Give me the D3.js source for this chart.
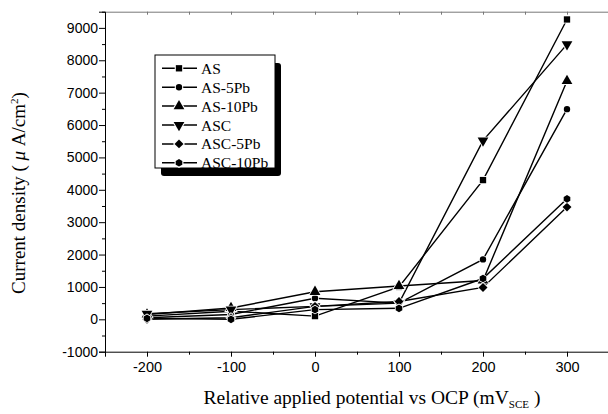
<!DOCTYPE html>
<html><head><meta charset="utf-8">
<script src="https://cdn.jsdelivr.net/npm/d3@7"></script>
<style>body{margin:0;background:#fff}svg{display:block}</style>
</head><body>
<svg id="c" width="608" height="414"></svg>
<script>
const potentials = [-200, -100, 0, 100, 200, 300];
const seriesNames = ["AS", "AS-5Pb", "AS-10Pb", "ASC", "ASC-5Pb", "ASC-10Pb"];
const AS      = [100, 250, 100, 1000, 4300, 9260];
const AS5Pb   = [50, 150, 650, 500, 1850, 6490];
const AS10Pb  = [150, 350, 850, 1030, 1200, 7360];
const ASC     = [170, 300, 400, 500, 5520, 8490];
const ASC5Pb  = [0, 50, 400, 550, 985, 3465];
const ASC10Pb = [30, 0, 300, 340, 1260, 3720];
const xTicks = [-200, -100, 0, 100, 200, 300];
const yTicks = [-1000, 0, 1000, 2000, 3000, 4000, 5000, 6000, 7000, 8000, 9000];

const seriesValues = [AS, AS5Pb, AS10Pb, ASC, ASC5Pb, ASC10Pb];

const svg = d3.select("#c");
const x = d3.scaleLinear().domain([-250, 350]).range([105, 609]);
const y = d3.scaleLinear().domain([-1000, 9500]).range([351.7, 11.7]);
const fmt = d => String(d); // plain hyphen-minus like the original

const triDown = {draw(ctx, size){const s=Math.sqrt(size/(Math.sqrt(3)/4)); const hh=s*Math.sqrt(3)/2;
  ctx.moveTo(-s/2, -hh/3); ctx.lineTo(s/2, -hh/3); ctx.lineTo(0, 2*hh/3); ctx.closePath();}};
const triUp = {draw(ctx, size){const s=Math.sqrt(size/(Math.sqrt(3)/4)); const hh=s*Math.sqrt(3)/2;
  ctx.moveTo(-s/2, hh/3); ctx.lineTo(s/2, hh/3); ctx.lineTo(0, -2*hh/3); ctx.closePath();}};
const hexa = {draw(ctx, size){const r=Math.sqrt(size/2.598); for(let i=0;i<6;i++){const a=Math.PI/6+i*Math.PI/3; const px=r*Math.cos(a), py=r*Math.sin(a); if(i===0)ctx.moveTo(px,py); else ctx.lineTo(px,py);} ctx.closePath();}};
const diam = {draw(ctx, size){const r=Math.sqrt(size/2); ctx.moveTo(0,-r); ctx.lineTo(r,0); ctx.lineTo(0,r); ctx.lineTo(-r,0); ctx.closePath();}};
const symTypes = [d3.symbolSquare, d3.symbolCircle, triUp, triDown, diam, hexa];
const symSizes = [40, 32, 50, 50, 40, 38];

// top grey line with ticks
const topAx = d3.axisTop(x).tickValues(d3.range(-250, 351, 50)).tickSize(-3).tickFormat("");
const gTop = svg.append("g").attr("transform", `translate(0,${y(9500)})`).call(topAx);
gTop.selectAll("path,line").attr("stroke", "#777").attr("stroke-width", 1);

const gx = svg.append("g").attr("transform", `translate(0,${y(-1000)})`)
  .call(d3.axisBottom(x).tickValues(xTicks).tickSize(5).tickPadding(5).tickFormat(fmt));
gx.selectAll("text").attr("font-family", "Liberation Sans, Arial, sans-serif").attr("font-size", 14.5).attr("fill", "#000");
const gxm = svg.append("g").attr("transform", `translate(0,${y(-1000)})`)
  .call(d3.axisBottom(x).tickValues(d3.range(-250, 351, 100)).tickSize(3).tickFormat(""));
gxm.select("path").remove();

const gy = svg.append("g").attr("transform", `translate(${x(-250)},0)`)
  .call(d3.axisLeft(y).tickValues(yTicks).tickSize(6).tickPadding(1).tickFormat(fmt));
gy.selectAll("text").attr("font-family", "Liberation Sans, Arial, sans-serif").attr("font-size", 14).attr("fill", "#000");
const gym = svg.append("g").attr("transform", `translate(${x(-250)},0)`)
  .call(d3.axisLeft(y).tickValues(d3.range(-500, 9501, 1000)).tickSize(3).tickFormat(""));
gym.select("path").remove();
svg.selectAll(".domain").attr("stroke-width", 1);

// lines
const line = d3.line().x((d, i) => x(potentials[i])).y(d => y(d));
const gData = svg.append("g");
seriesValues.forEach((vals) => {
  gData.append("path").datum(vals).attr("d", line).attr("fill", "none")
    .attr("stroke", "#000").attr("stroke-width", 1.4);
});
seriesValues.forEach((vals, si) => {
  gData.selectAll(null).data(vals).enter().append("path")
    .attr("transform", (d, i) => `translate(${x(potentials[i])},${y(d)})`)
    .attr("d", d3.symbol().type(symTypes[si]).size(symSizes[si]))
    .attr("fill", "#000").attr("stroke", "#fff").attr("stroke-width", 1.6).attr("paint-order", "stroke");
});

// legend
const lg = svg.append("g");
const lx = 155, ly = 55, lw = 120, lh = 113;
lg.append("rect").attr("x", lx + 6).attr("y", ly + 8).attr("width", lw).attr("height", lh)
  .attr("fill", "#000").attr("rx", 3);
lg.append("rect").attr("x", lx).attr("y", ly).attr("width", lw).attr("height", lh)
  .attr("fill", "#fff").attr("stroke", "#000").attr("stroke-width", 1);
seriesNames.forEach((name, i) => {
  const yy = 68.3 + i * 18.9;
  lg.append("line").attr("x1", 162).attr("x2", 197).attr("y1", yy).attr("y2", yy)
    .attr("stroke", "#000").attr("stroke-width", 1.5);
  lg.append("path").attr("transform", `translate(179,${yy})`)
    .attr("d", d3.symbol().type(symTypes[i]).size(symSizes[i]))
    .attr("fill", "#000").attr("stroke", "#fff").attr("stroke-width", 2.2).attr("paint-order", "stroke");
  lg.append("text").attr("x", 201).attr("y", yy + 5.5).text(name)
    .attr("font-family", "Liberation Serif, Times New Roman, serif").attr("font-size", 15.5).attr("fill", "#000");
});

// titles
const xt = svg.append("text").attr("x", 372).attr("y", 404).attr("text-anchor", "middle")
  .attr("font-family", "Liberation Serif, Times New Roman, serif").attr("font-size", 19.5).attr("fill", "#000");
xt.append("tspan").text("Relative applied potential vs OCP (mV");
xt.append("tspan").text("SCE").attr("font-size", 11).attr("dy", 4);
xt.append("tspan").text(" )").attr("dy", -4);

const yt = svg.append("text").attr("transform", "translate(25,193) rotate(-90)").attr("text-anchor", "middle")
  .attr("font-family", "Liberation Serif, Times New Roman, serif").attr("font-size", 19).attr("fill", "#000");
yt.append("tspan").text("Current density ( ");
yt.append("tspan").text("μ").attr("font-style", "italic");
yt.append("tspan").text(" A/cm");
yt.append("tspan").text("2").attr("font-size", 11).attr("dy", -7);
yt.append("tspan").text(")").attr("dy", 7);
</script>
</body></html>
